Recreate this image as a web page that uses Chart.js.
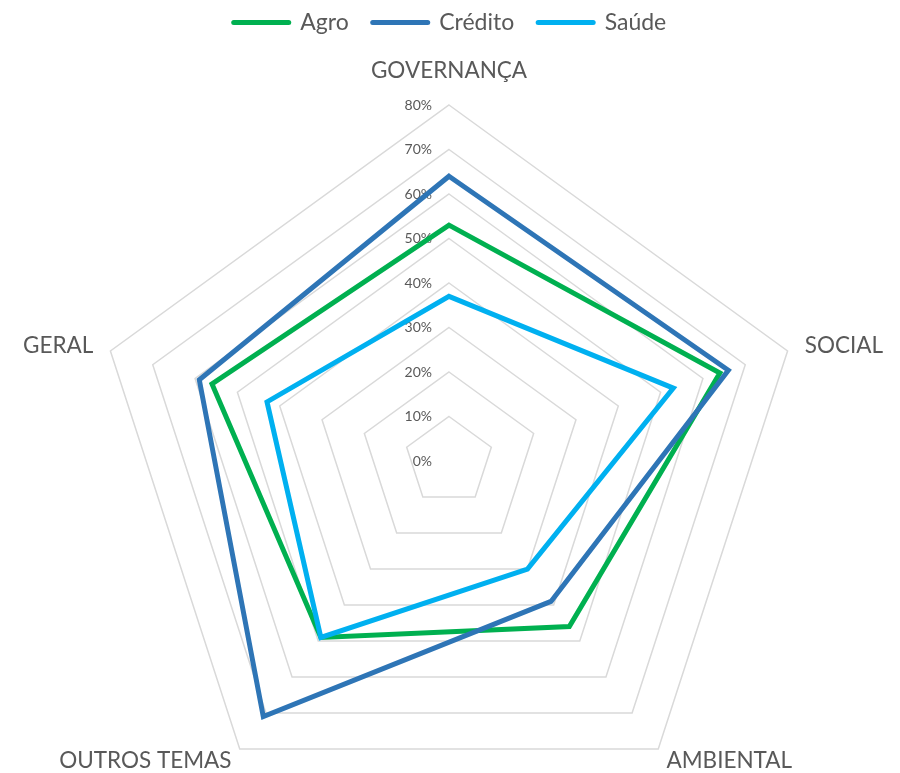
<!DOCTYPE html>
<html>
<head>
<meta charset="utf-8">
<script src="https://cdn.jsdelivr.net/npm/chart.js@4"></script>
<style>
  html, body { margin: 0; padding: 0; background: #ffffff; }
  #wrap { width: 900px; height: 773px; }
</style>
</head>
<body>
<div id="wrap"><canvas id="radarChart" width="900" height="773"></canvas></div>
<script>
// 軸ラベル
const categories = ["GOVERNANÇA", "SOCIAL", "AMBIENTAL", "OUTROS TEMAS", "GERAL"];
// 系列データ (%)
const agroValues = [53, 64, 46, 49, 56];
const creditoValues = [64, 66, 39, 71, 59];
const saudeValues = [37, 53, 30, 49, 43];
// 目盛り
const tickMin = 0;
const tickMax = 80;
const tickStep = 10;

const TEXT_COLOR = "#595959";
const FONT_FAMILY = "Lato";

// 描画位置の調整用
const CENTER_X = 449;
const CENTER_Y = 461;
const RADIUS = 356;
const labelPad = [34, 18, 14, 14, 18];
const labelAlign = ["center", "left", "left", "right", "right"];

// 目盛り文字と軸ラベルの描画
const radarTextPlugin = {
  id: "radarText",
  beforeDatasetsDraw(chart) {
    const scale = chart.scales.r;
    const ctx = chart.ctx;
    ctx.save();
    ctx.fillStyle = TEXT_COLOR;

    ctx.font = `14px ${FONT_FAMILY}`;
    ctx.textAlign = "right";
    ctx.textBaseline = "middle";
    scale.ticks.forEach((tick) => {
      const d = scale.getDistanceFromCenterForValue(tick.value);
      ctx.fillText(`${tick.value}%`, scale.xCenter - 17, scale.yCenter - d);
    });

    ctx.font = `22.5px ${FONT_FAMILY}`;
    chart.data.labels.forEach((label, i) => {
      const pos = scale.getPointPosition(i, scale.drawingArea + labelPad[i]);
      ctx.textAlign = labelAlign[i];
      ctx.fillText(label, pos.x, pos.y);
    });
    ctx.restore();
  },
};

function setupChart() {
  const ctx = document.getElementById("radarChart").getContext("2d");
  new Chart(ctx, {
    type: "radar",
    data: {
      labels: categories,
      datasets: [
        {
          label: "Agro",
          data: agroValues,
          borderColor: "#00B050",
          backgroundColor: "#00B050",
          order: 3,
        },
        {
          label: "Crédito",
          data: creditoValues,
          borderColor: "#2E75B6",
          backgroundColor: "#2E75B6",
          order: 2,
        },
        {
          label: "Saúde",
          data: saudeValues,
          borderColor: "#00B0F0",
          backgroundColor: "#00B0F0",
          order: 1,
        },
      ],
    },
    options: {
      responsive: false,
      maintainAspectRatio: false,
      animation: false,
      layout: { padding: { top: -13 } },
      elements: {
        line: {
          borderWidth: 5,
          fill: false,
          tension: 0,
          borderJoinStyle: "miter",
          borderCapStyle: "round",
        },
        point: { radius: 0, hoverRadius: 0, borderWidth: 5 },
      },
      plugins: {
        tooltip: { enabled: false },
        legend: {
          position: "top",
          labels: {
            usePointStyle: true,
            pointStyle: "line",
            pointStyleWidth: 55,
            boxHeight: 5,
            padding: 24,
            color: TEXT_COLOR,
            font: { family: FONT_FAMILY, size: 23 },
            sort: (a, b) => a.datasetIndex - b.datasetIndex,
            // 凡例の線を太く、端を丸く
            generateLabels: (chart) =>
              Chart.defaults.plugins.legend.labels
                .generateLabels(chart)
                .map((item) => ({ ...item, lineWidth: 5, lineCap: "round" })),
          },
        },
      },
      scales: {
        r: {
          min: tickMin,
          max: tickMax,
          ticks: { stepSize: tickStep, display: false },
          grid: { color: "#d9d9d9", lineWidth: 1.5 },
          angleLines: { display: false },
          pointLabels: { display: false },
          // 中心と半径を固定
          afterFit: (scale) => {
            scale.xCenter = CENTER_X;
            scale.yCenter = CENTER_Y;
            scale.drawingArea = RADIUS;
          },
        },
      },
    },
    plugins: [radarTextPlugin],
  });
}

document.addEventListener("DOMContentLoaded", setupChart);
</script>
</body>
</html>
